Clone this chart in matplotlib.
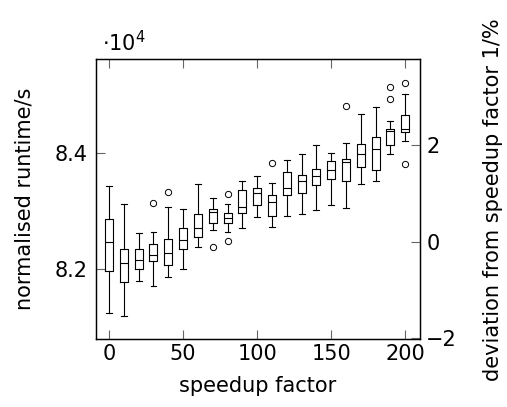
import matplotlib
matplotlib.use("Agg")
import matplotlib.pyplot as plt
from matplotlib.ticker import FuncFormatter

# Daten
speedup = [0, 10, 20, 30, 40, 50, 60, 70, 80, 90, 100,
           110, 120, 130, 140, 150, 160, 170, 180, 190, 200]
whisker_low = [81256, 81205, 81800, 81714, 81873, 82000, 82378, 82674, 82640, 82709, 82897,
               82721, 82914, 82944, 83017, 83098, 83046, 83463, 83520, 83978, 84201]
q1 = [81976, 81777, 82000, 82143, 82069, 82343, 82549, 82789, 82800, 82961, 83098,
      82909, 83275, 83304, 83441, 83554, 83520, 83760, 83703, 84132, 84360]
median = [82474, 82108, 82160, 82240, 82285, 82503, 82709, 82974, 82875, 83064, 83304,
          83155, 83395, 83520, 83600, 83703, 83846, 83973, 84058, 84377, 84401]
q3 = [82858, 82354, 82354, 82434, 82525, 82709, 82949, 83029, 82961, 83360, 83400,
      83269, 83669, 83623, 83715, 83853, 83887, 84149, 84274, 84406, 84647]
whisker_high = [83429, 83120, 82618, 82645, 83074, 83040, 83458, 83228, 83120, 83520, 83600,
                83485, 83875, 83978, 84137, 84000, 84161, 84664, 84779, 84549, 85007]
outliers = [[], [], [], [83132], [83321], [], [], [82388], [83287, 82481], [], [],
            [83818], [], [], [], [], [84806], [], [], [84926, 85132], [85200, 83801]]

ref = median[0]  # Referenz: speedup factor 1

stats = []
for i in range(len(speedup)):
    stats.append(dict(whislo=whisker_low[i], q1=q1[i], med=median[i],
                      q3=q3[i], whishi=whisker_high[i], fliers=outliers[i]))

plt.rcParams['font.family'] = ['DejaVu Sans']
plt.rcParams['font.size'] = 15

fig = plt.figure(figsize=(5.07, 4.07), dpi=100)
ax = fig.add_axes([0.1888, 0.1663, 0.6396, 0.688])

lw = 0.8
line = dict(color='black', linewidth=lw)
ax.bxp(stats, positions=speedup, widths=5.4, capwidths=4, manage_ticks=False,
       boxprops=line, whiskerprops=line, capprops=line, medianprops=line,
       flierprops=dict(marker='o', markerfacecolor='none', markeredgecolor='black',
                       markersize=4.5, markeredgewidth=0.7))

ax.set_xlim(-9, 210)
ax.set_ylim(80800, 85600)
ax.set_xticks([0, 50, 100, 150, 200])
ax.set_yticks([82000, 84000])
ax.yaxis.set_major_formatter(FuncFormatter(lambda v, p: f"{v / 1e4:.1f}"))
ax.tick_params(axis='x', direction='in', top=True, length=6.5, width=0.8,
               color='0.4', pad=3.5)
ax.tick_params(axis='y', direction='in', right=False, length=6.5, width=0.8,
               color='0.4', pad=6)
for s in ax.spines.values():
    s.set_linewidth(0.9)

ax.set_xlabel('speedup factor')
ax.set_ylabel('normalised runtime/s')
ax.xaxis.set_label_coords(0.5, -0.13)
ax.yaxis.set_label_coords(-0.19, 0.5)
ax.text(0.02, 1.03, r'$\cdot 10^{4}$', transform=ax.transAxes, fontsize=15)

# rechte Achse: Abweichung in %
ax2 = ax.twinx()
lo, hi = ax.get_ylim()
ax2.set_ylim((lo / ref - 1) * 100, (hi / ref - 1) * 100)
ax2.set_yticks([-2, 0, 2])
ax2.yaxis.set_major_formatter(FuncFormatter(lambda v, p: f"{v:.0f}".replace('-', '\u2212')))
ax2.tick_params(axis='y', direction='in', length=6.5, width=0.8, color='0.4', pad=4.5)
ax2.set_ylabel('deviation from speedup factor 1/%')
ax2.yaxis.set_label_coords(1.195, 0.5)
for s in ax2.spines.values():
    s.set_linewidth(0.9)

fig.savefig('out.png', dpi=100)
